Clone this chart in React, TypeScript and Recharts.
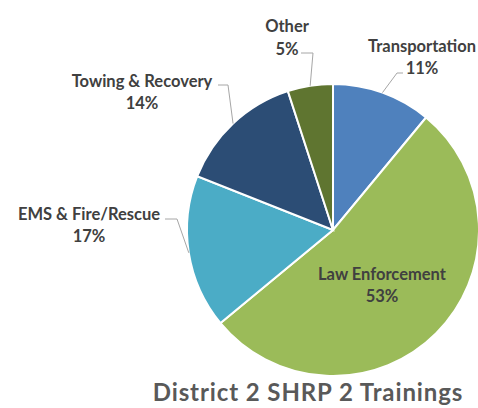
import { PieChart, Pie, Cell } from 'recharts';

const categories = ['Transportation', 'Law Enforcement', 'EMS & Fire/Rescue', 'Towing & Recovery', 'Other'];
const shares = [11, 53, 17, 14, 5];
const colors = ['#4f81bd', '#9bbb59', '#4bacc6', '#2c4d75', '#5f7530'];

const data = categories.map((name, i) => ({ name, value: shares[i] }));

// label placement relative to pie centre (Excel "best fit" look)
const labelLayout: Record<string, { elbow?: [number, number]; end?: [number, number]; x: number; y1: number; y2: number }> = {
  Transportation: { elbow: [64, -157], end: [70, -157], x: 89, y1: -178, y2: -156 },
  'Law Enforcement': { x: 49, y1: 50, y2: 72 },
  'EMS & Fire/Rescue': { elbow: [-156, -11], end: [-168, -11], x: -244, y1: -10, y2: 12 },
  'Towing & Recovery': { elbow: [-105, -145], end: [-115, -145], x: -191, y1: -143, y2: -121 },
  Other: { elbow: [-20, -177], end: [-32, -177], x: -46, y1: -198, y2: -175 },
};

const RAD = Math.PI / 180;

function renderLabel(props: any) {
  const { cx, cy, midAngle, outerRadius, name, percent } = props;
  const lay = labelLayout[name];
  if (!lay) return null;
  const ex = cx + outerRadius * Math.cos(-midAngle * RAD);
  const ey = cy + outerRadius * Math.sin(-midAngle * RAD);
  const pct = `${Math.round(percent * 100)}%`;
  const textStyle = { fontSize: 16.5, fontWeight: 700, fontFamily: 'Lato' };
  return (
    <g>
      {lay.elbow && lay.end && (
        <polyline
          points={`${ex},${ey} ${cx + lay.elbow[0]},${cy + lay.elbow[1]} ${cx + lay.end[0]},${cy + lay.end[1]}`}
          fill="none"
          stroke="#a6a6a6"
          strokeWidth={1}
        />
      )}
      <text x={cx + lay.x} y={cy + lay.y1} textAnchor="middle" fill="#404040" style={textStyle}>
        {name}
      </text>
      <text x={cx + lay.x} y={cy + lay.y2} textAnchor="middle" fill="#404040" style={textStyle}>
        {pct}
      </text>
    </g>
  );
}

export default function App() {
  return (
    <div style={{ position: 'absolute', left: 0, top: 0, width: 478, height: 408, background: '#fff', overflow: 'hidden' }}>
      <PieChart width={478} height={408}>
        <Pie
          data={data}
          dataKey="value"
          nameKey="name"
          cx={328}
          cy={225}
          outerRadius={146}
          startAngle={90}
          endAngle={-270}
          stroke="#ffffff"
          strokeWidth={2}
          label={renderLabel}
          labelLine={false}
          isAnimationActive={false}
        >
          {data.map((d, i) => (
            <Cell key={d.name} fill={colors[i]} />
          ))}
        </Pie>
      </PieChart>
      <div
        style={{
          position: 'absolute',
          left: 0,
          width: 616,
          top: 377,
          textAlign: 'center',
          fontFamily: 'Lato',
          fontWeight: 700,
          fontSize: 24,
          letterSpacing: '0.9px',
          color: '#595959',
          lineHeight: '30px',
          whiteSpace: 'nowrap',
        }}
      >
        District 2 SHRP 2 Trainings
      </div>
    </div>
  );
}
